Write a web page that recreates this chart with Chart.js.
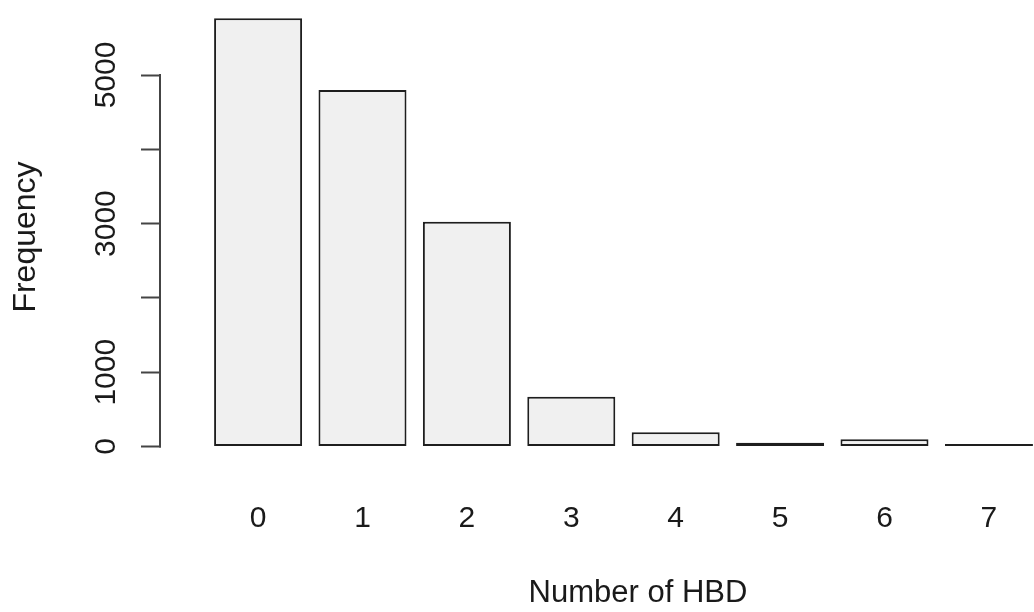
<!DOCTYPE html>
<html>
<head>
<meta charset="utf-8">
<script src="https://cdn.jsdelivr.net/npm/chart.js@4/dist/chart.umd.min.js"></script>
<style>
  html, body { margin: 0; padding: 0; background: #fff; overflow: hidden; }
  #chart { display: block; }
</style>
</head>
<body>
<canvas id="chart" width="1115" height="612"></canvas>
<script>
const hbdCounts = ['0', '1', '2', '3', '4', '5', '6', '7'];
const frequencies = [5763, 4798, 3026, 670, 191, 50, 97, 33];
const yTickValues = [0, 1000, 2000, 3000, 4000, 5000];
const yTickLabels = ['0', '1000', '', '3000', '', '5000'];

const textColor = '#1a1a1a';
const axisColor = '#444';

// R draws the y axis line only between the first and last tick
const rAxisLine = {
    id: 'rAxisLine',
    afterDraw(chart) {
        const y = chart.scales.y;
        const ctx = chart.ctx;
        ctx.save();
        ctx.strokeStyle = axisColor;
        ctx.lineWidth = 2;
        ctx.beginPath();
        ctx.moveTo(y.right - 1, y.getPixelForValue(yTickValues[0]) + 1);
        ctx.lineTo(y.right - 1, y.getPixelForValue(yTickValues[yTickValues.length - 1]) - 1);
        ctx.stroke();
        ctx.restore();
    }
};

new Chart(document.getElementById('chart'), {
    type: 'bar',
    data: {
        datasets: [{
            data: frequencies.map((v, i) => ({ x: i, y: v })),
            backgroundColor: '#f0f0f0',
            borderColor: '#1e1e1e',
            borderWidth: 2,
            borderSkipped: false,
            categoryPercentage: 1,
            barPercentage: 0.843
        }]
    },
    options: {
        responsive: false,
        animation: false,
        layout: { padding: { top: 8, left: 0, right: 0, bottom: 0 } },
        plugins: {
            legend: { display: false },
            tooltip: { enabled: false }
        },
        scales: {
            x: {
                type: 'linear',
                offset: false,
                min: -0.93,
                max: 8.208,
                afterBuildTicks: s => { s.ticks = hbdCounts.map((c, i) => ({ value: i })); },
                afterFit: s => {
                    s.height = 146;
                    s.paddingLeft = 0;
                    s.paddingRight = 0;
                },
                grid: { display: false, drawTicks: false, offset: false },
                border: { display: false },
                ticks: {
                    autoSkip: false,
                    padding: 35,
                    color: textColor,
                    font: { family: 'Liberation Sans', size: 30 },
                    callback: v => hbdCounts[v]
                },
                title: {
                    display: true,
                    text: 'Number of HBD',
                    color: textColor,
                    font: { family: 'Liberation Sans', size: 31 },
                    padding: { top: 0, bottom: 0 }
                }
            },
            y: {
                min: -262.4,
                max: 5901.8,
                afterBuildTicks: s => { s.ticks = yTickValues.map(v => ({ value: v })); },
                afterFit: s => {
                    s.width = 161;
                    s.paddingTop = 0;
                    s.paddingBottom = 0;
                },
                grid: {
                    drawOnChartArea: false,
                    drawTicks: true,
                    tickLength: 20,
                    tickWidth: 2,
                    tickColor: axisColor
                },
                border: { display: false },
                ticks: {
                    autoSkip: false,
                    minRotation: 90,
                    maxRotation: 90,
                    crossAlign: 'center',
                    padding: 1,
                    color: textColor,
                    font: { family: 'Liberation Sans', size: 30 },
                    callback: (v, i) => yTickLabels[i]
                },
                title: {
                    display: true,
                    text: 'Frequency',
                    color: textColor,
                    font: { family: 'Liberation Sans', size: 32 },
                    padding: { top: 7, bottom: 0 }
                }
            }
        }
    },
    plugins: [rAxisLine]
});
</script>
</body>
</html>
